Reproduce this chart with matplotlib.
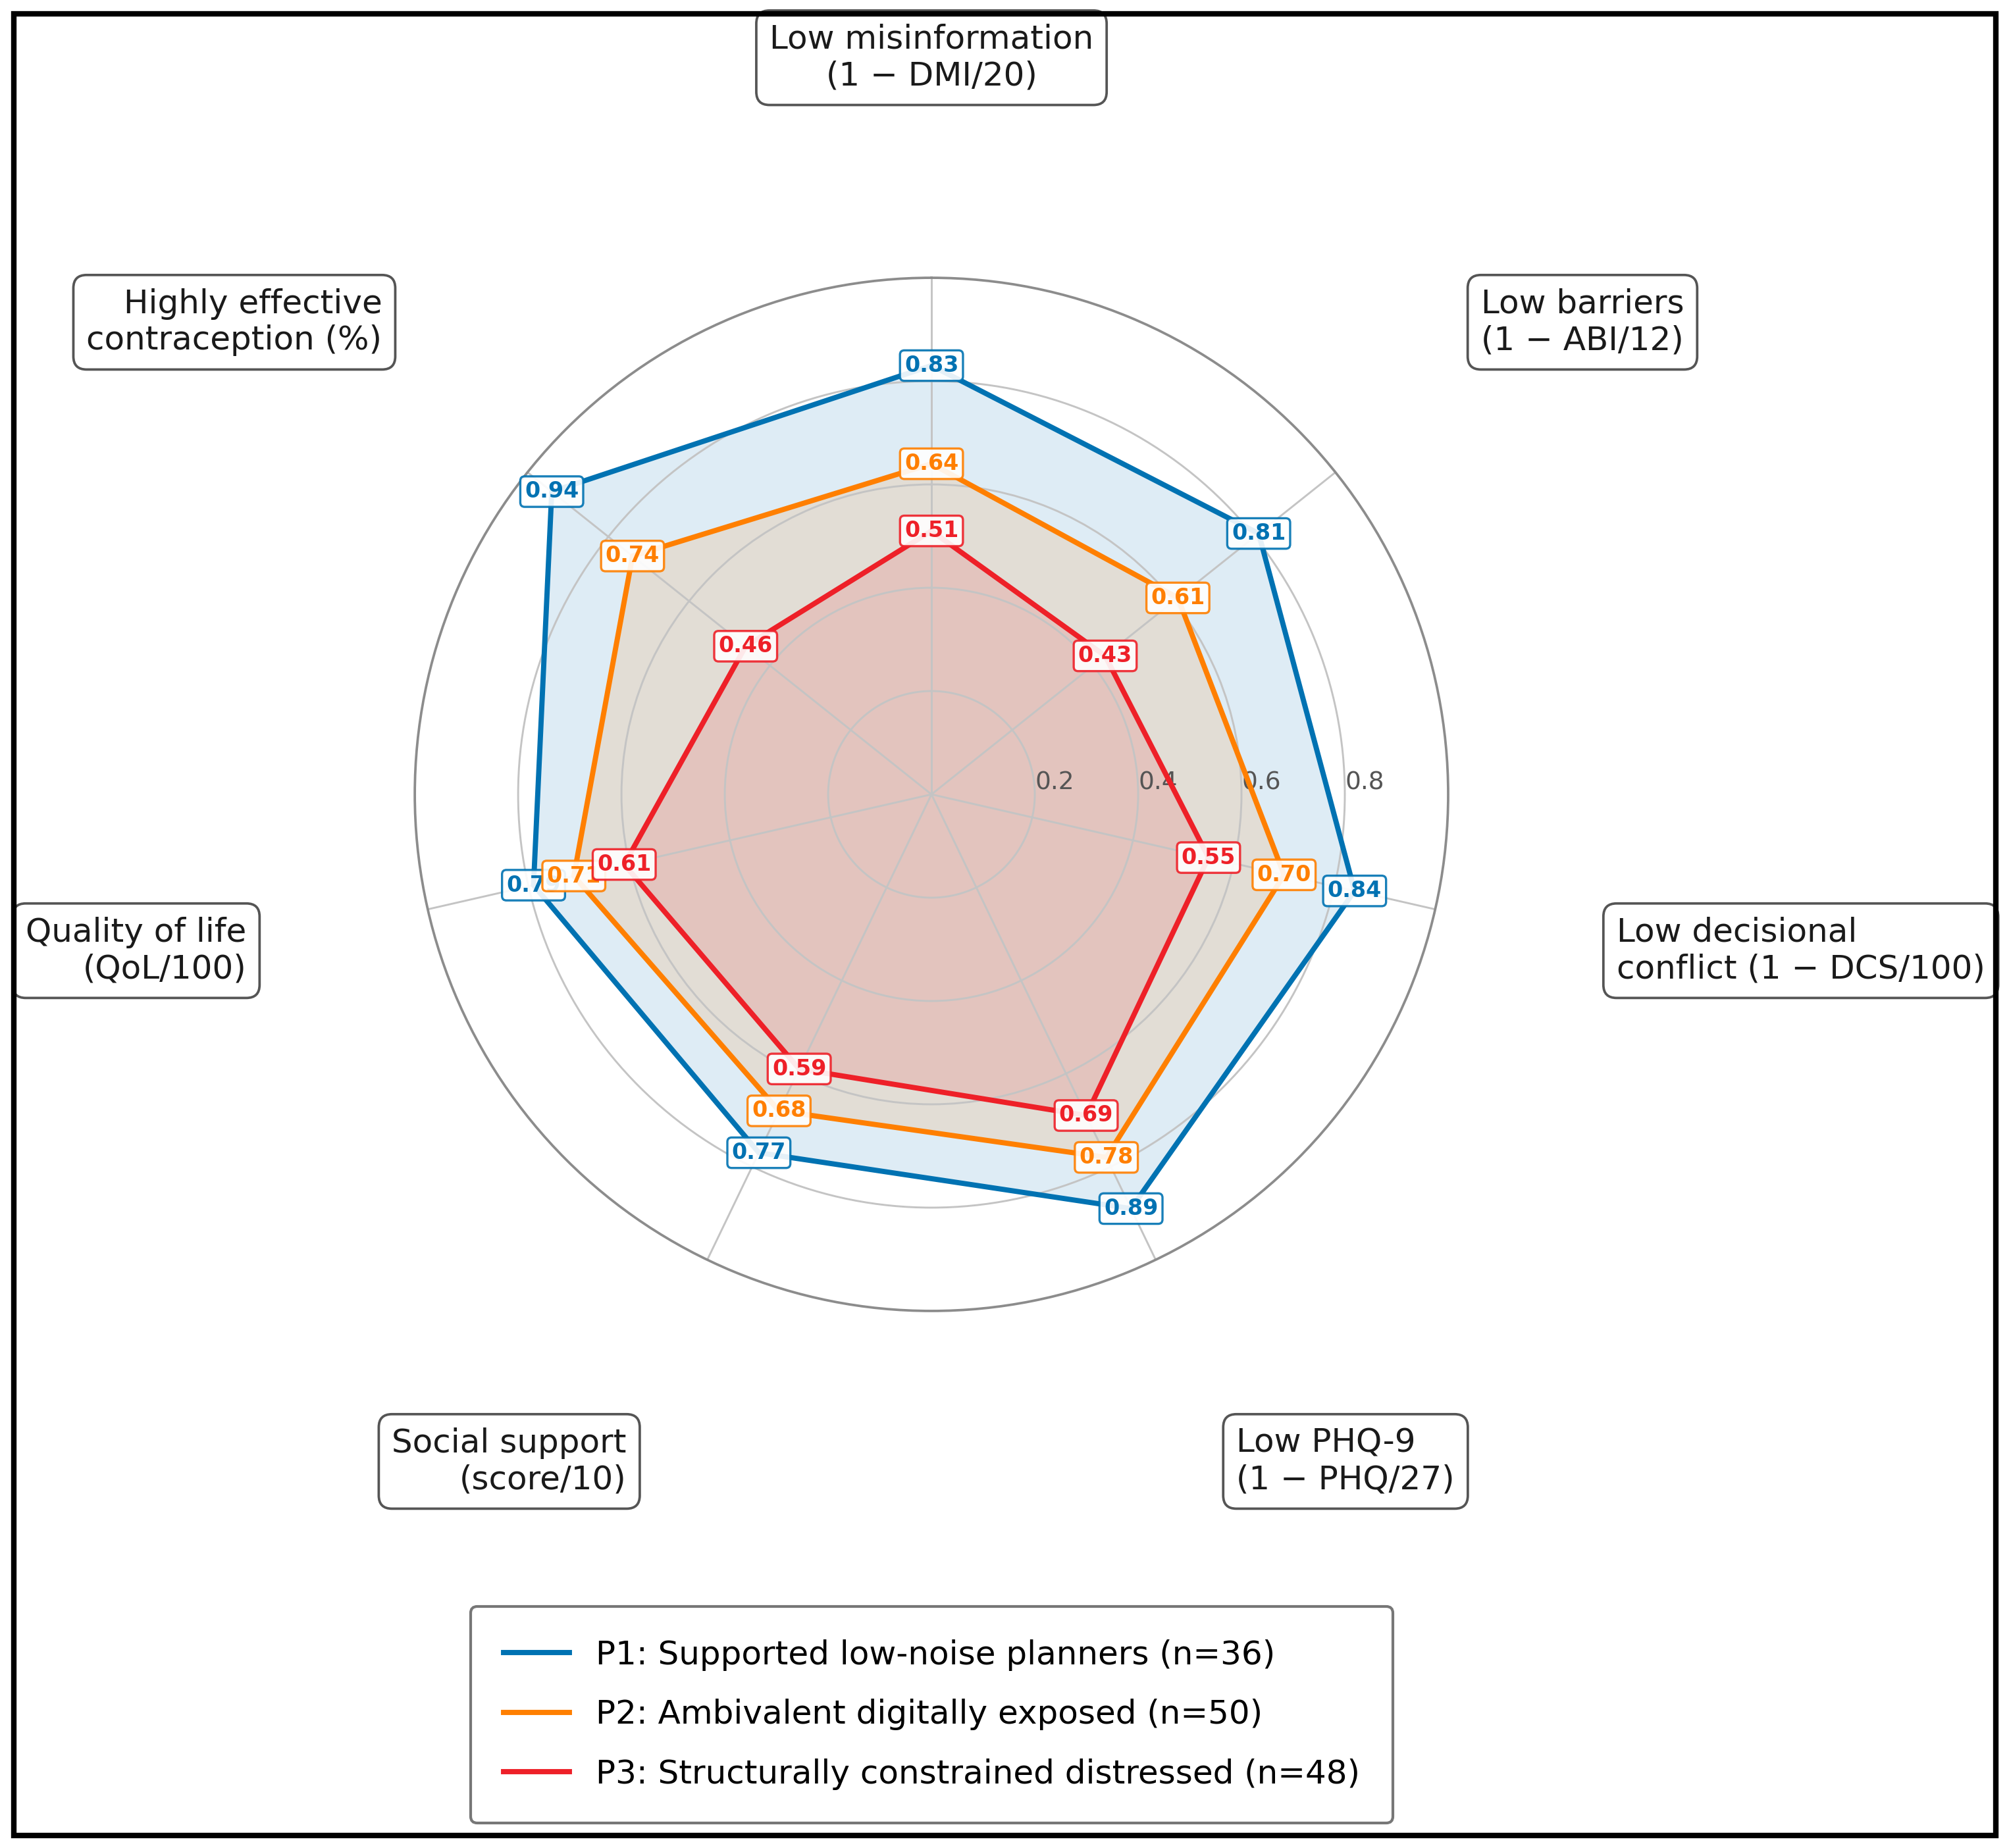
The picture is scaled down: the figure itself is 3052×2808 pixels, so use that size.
import numpy as np
import matplotlib.pyplot as plt
from matplotlib.lines import Line2D
from matplotlib.patches import Rectangle

# axis labels, clockwise from the top
categories = [
    "Low misinformation\n(1 \u2212 DMI/20)",
    "Low barriers\n(1 \u2212 ABI/12)",
    "Low decisional\nconflict (1 \u2212 DCS/100)",
    "Low PHQ-9\n(1 \u2212 PHQ/27)",
    "Social support\n(score/10)",
    "Quality of life\n(QoL/100)",
    "Highly effective\ncontraception (%)",
]
p1_values = [0.83, 0.81, 0.84, 0.89, 0.77, 0.79, 0.94]
p2_values = [0.64, 0.61, 0.70, 0.78, 0.68, 0.71, 0.74]
p3_values = [0.51, 0.43, 0.55, 0.69, 0.59, 0.61, 0.46]
profile_names = [
    "P1: Supported low-noise planners (n=36)",
    "P2: Ambivalent digitally exposed (n=50)",
    "P3: Structurally constrained distressed (n=48)",
]
colors = ["#0072B2", "#FF7F00", "#EE2028"]
r_ticks = [0.2, 0.4, 0.6, 0.8]


def main():
    n = len(categories)
    angles = np.linspace(0, 2 * np.pi, n, endpoint=False)
    closed = np.append(angles, angles[0])

    fig = plt.figure(figsize=(3053 / 300, 2808 / 300), dpi=300)
    ax = fig.add_axes([0.2064, 0.2906, 0.5142, 0.5591], projection="polar")
    ax.set_theta_offset(np.pi / 2)
    ax.set_theta_direction(-1)
    ax.set_ylim(0, 1)
    ax.set_yticks(r_ticks)
    ax.set_yticklabels([f"{t:.1f}" for t in r_ticks], fontsize=9, color="#555555")
    ax.set_rlabel_position(90)
    ax.set_xticks(angles)
    ax.set_xticklabels([])
    ax.grid(color="#c4c4c4", lw=0.7)
    ax.spines["polar"].set_color("#8c8c8c")
    ax.spines["polar"].set_linewidth(0.9)

    all_values = [p1_values, p2_values, p3_values]
    for vals, c, name in zip(all_values, colors, profile_names):
        v = np.append(vals, vals[0])
        ax.fill(closed, v, color=c, alpha=0.13, lw=0)
        ax.plot(closed, v, color=c, lw=1.9, label=name)

    # value tags, drawn after all lines
    for vals, c in zip(all_values, colors):
        for a, val in zip(angles, vals):
            ax.text(a, val, f"{val:.2f}", ha="center", va="center", fontsize=8,
                    fontweight="bold", color=c, zorder=6,
                    bbox=dict(boxstyle="round,pad=0.2", fc="white", ec=c,
                              lw=0.8, alpha=0.9))

    # category labels outside the outer ring
    for a, lab in zip(angles, categories):
        disp = np.pi / 2 - a
        cx, sy = np.cos(disp), np.sin(disp)
        ha = "left" if cx > 0.1 else ("right" if cx < -0.1 else "center")
        va = "bottom" if sy > 0.5 else ("top" if sy < -0.5 else "center")
        ax.text(a, 1.36, lab, ha=ha, va=va, multialignment=ha, fontsize=12,
                color="#1a1a1a", clip_on=False,
                bbox=dict(boxstyle="round,pad=0.4", fc="white", ec="#555555", lw=0.9))

    handles = [Line2D([], [], color=c, lw=1.9) for c in colors]
    fig.legend(handles, profile_names, loc="upper center",
               bbox_to_anchor=(0.4635, 0.1307), borderaxespad=0, fontsize=12,
               frameon=True, edgecolor="#777777", framealpha=1, borderpad=1.0,
               labelspacing=0.85)

    fig.add_artist(Rectangle((0.007, 0.0066), 0.986, 0.986, transform=fig.transFigure,
                             fill=False, lw=2.0, ec="black"))
    fig.savefig("out.png", dpi=300)


if __name__ == "__main__":
    main()
